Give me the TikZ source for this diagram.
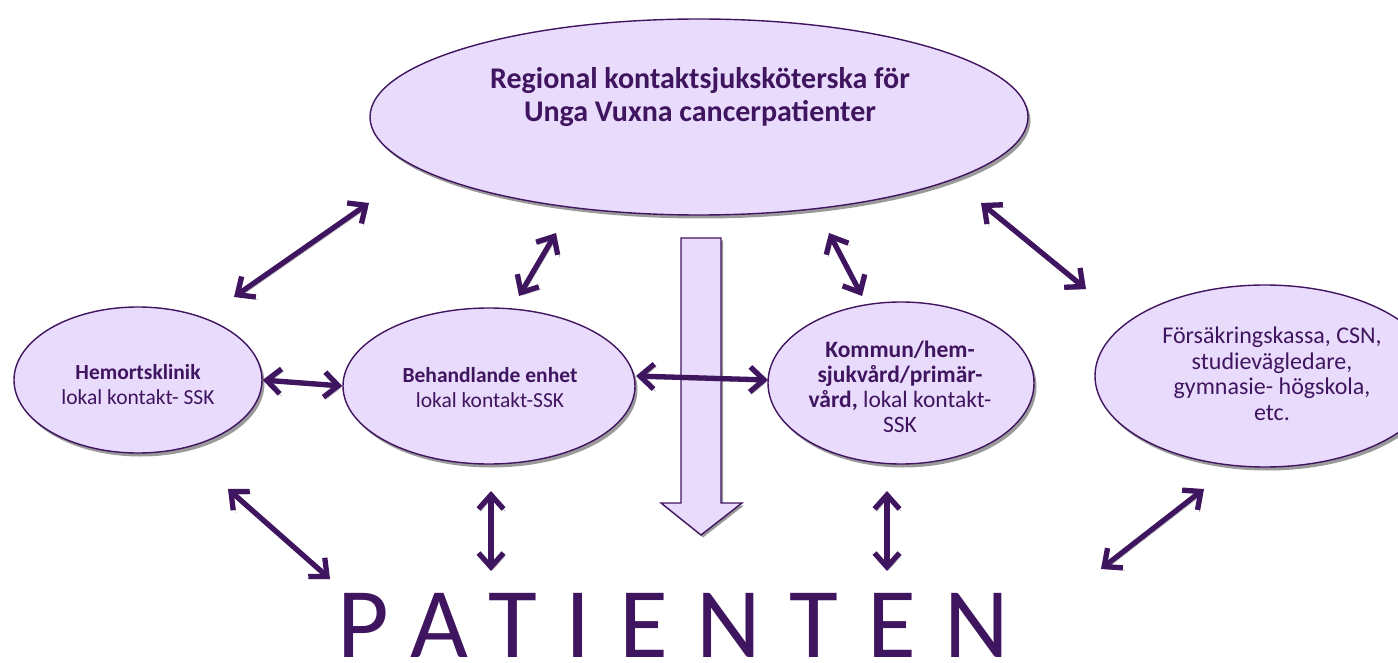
\documentclass[tikz,border=0pt]{standalone}
\usepackage{fontspec}
\setmainfont{Carlito}
\usetikzlibrary{shapes.geometric,arrows.meta,shadows}
\definecolor{pur}{HTML}{40155F}
\definecolor{lav}{HTML}{E8DBFB}
\definecolor{shd}{HTML}{9A9A9A}
\tikzset{
  ell/.style={ellipse, draw=pur, line width=1.4pt, fill=lav, inner sep=0pt,
    drop shadow={shadow xshift=2.5pt, shadow yshift=-3.5pt, fill=shd, opacity=1}},
  lbl/.style={text=pur, align=center, font=\fontsize{21.5}{25}\selectfont},
  barb/.tip={Straight Barb[length=14pt,width=25pt]},
  dbl/.style={barb-barb, line width=5.3pt, draw=pur, line cap=round, line join=round,
    preaction={draw=shd, transform canvas={shift={(2pt,-2.5pt)}}}},
  bigarrow/.style={draw=pur, line width=1.4pt, fill=lav, line join=miter,
    drop shadow={shadow xshift=2pt, shadow yshift=-2.5pt, fill=shd, opacity=1}}
}
\begin{document}
\begin{tikzpicture}[x=1pt,y=-1pt]
\useasboundingbox (0,0) rectangle (1398,663);
% ellipses
\node[ell, minimum width=658pt, minimum height=196pt] (reg) at (699,117) {};
\node[ell, minimum width=248pt, minimum height=146pt] (hem) at (138,380) {};
\node[ell, minimum width=292pt, minimum height=156pt] (beh) at (489,386) {};
\node[ell, minimum width=266pt, minimum height=162pt] (kom) at (901,383) {};
\node[ell, minimum width=340pt, minimum height=182pt] (fors) at (1265,376) {};
% texts
\node[lbl, font=\fontsize{30}{33}\selectfont\bfseries] (regt) at (700,97)
  {Regional kontaktsjuksköterska för\\Unga Vuxna cancerpatienter};
\node[lbl] (hemt) at (138,385) {\textbf{Hemortsklinik}\\lokal kontakt- SSK};
\node[lbl] (beht) at (490,388) {\textbf{Behandlande enhet}\\lokal kontakt-SSK};
\node[lbl, font=\fontsize{23.5}{25}\selectfont] (komt) at (900,387) {\textbf{Kommun/hem-}\\\textbf{sjukvård/primär-}\\\textbf{vård,} lokal kontakt-\\SSK};
\node[lbl, font=\fontsize{24}{25.5}\selectfont] (forst) at (1272,374) {Försäkringskassa, CSN,\\studievägledare,\\gymnasie- högskola,\\etc.};
% big down arrow
\draw[bigarrow] (681,238) -- (721,238) -- (721,503) -- (742,503) -- (701,535) -- (661,503) -- (681,503) -- cycle;
% horizontal arrows
\draw[dbl] (hem.east) -- (beh.west);
\coordinate (h2a) at (636,376);
\coordinate (h2b) at (768,380);
\draw[dbl] (h2a) -- (h2b);
% diagonal arrows
\coordinate (a1s) at (234,297); \coordinate (a1e) at (369,203);
\coordinate (a2s) at (519,296); \coordinate (a2e) at (556,233);
\coordinate (a3s) at (829,233); \coordinate (a3e) at (862,296);
\coordinate (a4s) at (981,203); \coordinate (a4e) at (1086,289);
\coordinate (a5s) at (228,489); \coordinate (a5e) at (330,579);
\coordinate (a6s) at (491,491); \coordinate (a6e) at (491,571);
\coordinate (a7s) at (887,491); \coordinate (a7e) at (887,571);
\coordinate (a8s) at (1204,489); \coordinate (a8e) at (1101,569);
\foreach \i in {1,...,8} {\draw[dbl] (a\i s) -- (a\i e);}
% patient
\node[anchor=base west, inner sep=0pt, text depth=0pt, text=pur,
  font=\fontsize{100}{100}\selectfont\addfontfeature{LetterSpace=28.5}] (pat) at (337,657) {PATIENTEN};
\end{tikzpicture}
\end{document}
